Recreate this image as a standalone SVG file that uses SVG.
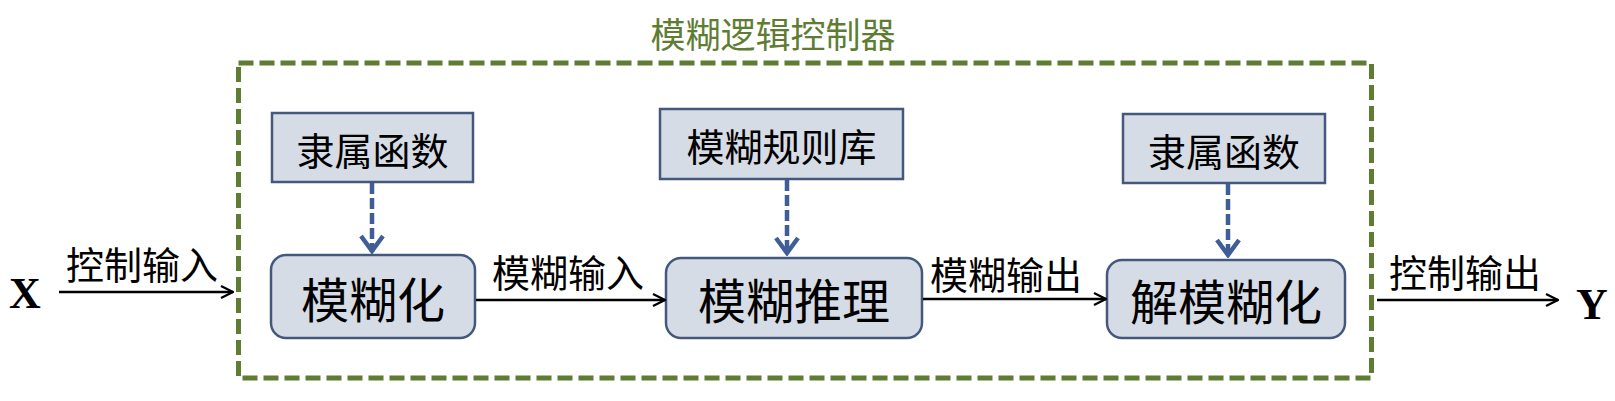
<svg xmlns="http://www.w3.org/2000/svg" width="1615" height="401" viewBox="0 0 1615 401">
<defs>
<style>
.cjk{font-family:"Noto Sans CJK SC","Noto Sans",sans-serif;dominant-baseline:central;text-anchor:middle;fill:#000}
.small{font-size:38px}
.big{font-size:48px}
.lbl{font-size:38px}
.title{font-size:35px;fill:#5E7D33}
.latin{font-family:"Liberation Serif",serif;font-weight:bold;font-size:44px;dominant-baseline:central;text-anchor:middle;fill:#000}
.sq{fill:#D6DCE5;stroke:#44587E;stroke-width:2.5}
.rd{fill:#D6DCE5;stroke:#44587E;stroke-width:2.5}
.flow{stroke:#000;stroke-width:2.5;fill:none}
.dash{stroke:#3F5E97;stroke-width:4.5;stroke-dasharray:11 4;fill:none}
</style>
<marker id="ah" viewBox="0 0 14 14" refX="13" refY="7" markerWidth="14" markerHeight="14" markerUnits="userSpaceOnUse" orient="auto">
<path d="M1,1 L13,7 L1,13" fill="none" stroke="#000" stroke-width="2.2"/>
</marker>
<marker id="dh" viewBox="0 0 26 22" refX="13" refY="20" markerWidth="26" markerHeight="22" markerUnits="userSpaceOnUse" orient="0">
<path d="M2,4 L13,19 L24,4" fill="none" stroke="#3F5E97" stroke-width="4.5" stroke-linejoin="miter"/>
</marker>
</defs>
<rect width="1615" height="401" fill="#fff"/>
<g id="controller">
<rect x="238.5" y="63" width="1133" height="315" fill="none" stroke="#5E7D33" stroke-width="5" stroke-dasharray="15 6"/>
<text class="cjk title" x="773" y="32">模糊逻辑控制器</text>
</g>
<g id="mf1"><rect class="sq" x="272" y="113" width="201" height="69"/><text class="cjk small" x="372.5" y="148">隶属函数</text></g>
<g id="rules"><rect class="sq" x="660" y="109" width="243" height="70"/><text class="cjk small" x="781.5" y="144">模糊规则库</text></g>
<g id="mf2"><rect class="sq" x="1123" y="114" width="202" height="69"/><text class="cjk small" x="1224" y="149">隶属函数</text></g>
<g id="fuzzify"><rect class="rd" x="271" y="255" width="204" height="83" rx="15"/><text class="cjk big" x="373" y="297">模糊化</text></g>
<g id="infer"><rect class="rd" x="666" y="258" width="256" height="80" rx="15"/><text class="cjk big" x="794" y="298">模糊推理</text></g>
<g id="defuzz"><rect class="rd" x="1107" y="260" width="238" height="78" rx="15"/><text class="cjk big" x="1226" y="299">解模糊化</text></g>
<g id="x"><text class="latin" x="25" y="293">X</text></g>
<g id="y"><text class="latin" x="1592" y="304">Y</text></g>
<g id="connectors">
<line class="dash" x1="372" y1="183" x2="372" y2="252" marker-end="url(#dh)"/>
<line class="dash" x1="787" y1="180" x2="787" y2="254" marker-end="url(#dh)"/>
<line class="dash" x1="1228" y1="184" x2="1228" y2="256" marker-end="url(#dh)"/>
<line class="flow" x1="59" y1="292" x2="233" y2="292" marker-end="url(#ah)"/>
<line class="flow" x1="476" y1="300" x2="665" y2="300" marker-end="url(#ah)"/>
<line class="flow" x1="923" y1="299" x2="1106" y2="299" marker-end="url(#ah)"/>
<line class="flow" x1="1377" y1="300" x2="1558" y2="300" marker-end="url(#ah)"/>
<text class="cjk lbl" x="142" y="262">控制输入</text>
<text class="cjk lbl" x="568" y="270">模糊输入</text>
<text class="cjk lbl" x="1006" y="272">模糊输出</text>
<text class="cjk lbl" x="1465" y="270">控制输出</text>
</g>
</svg>
